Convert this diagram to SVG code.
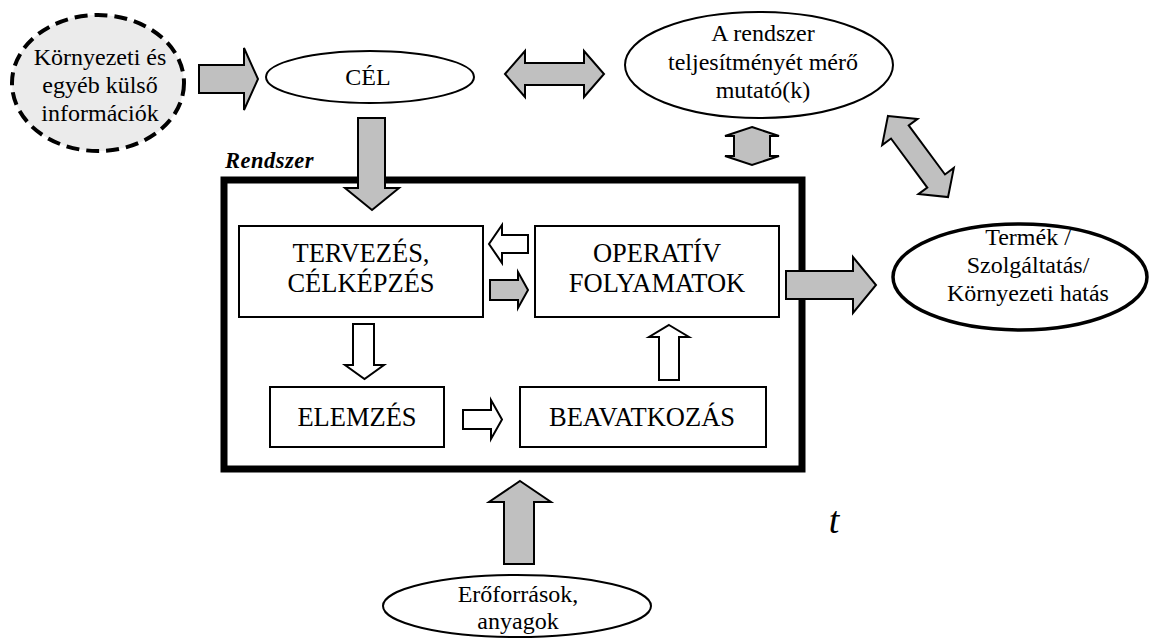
<svg xmlns="http://www.w3.org/2000/svg" width="1150" height="638" viewBox="0 0 1150 638">
<style>
text{font-family:"Liberation Serif","Times New Roman","Liberation Sans",serif;fill:#000;text-anchor:middle}
.te{font-size:24px}
.tb{font-size:26.5px}
.g{fill:#c0c0c0;stroke:#000;stroke-width:2;stroke-linejoin:miter}
.w{fill:#fff;stroke:#000;stroke-width:2;stroke-linejoin:miter}
.box{fill:#fff;stroke:#000;stroke-width:2}
.ell{fill:#fff;stroke:#000;stroke-width:2}
</style>
<rect width="1150" height="638" fill="#fff"/>
<g id="rendszer">
<rect x="224" y="180" width="578" height="289" fill="none" stroke="#000" stroke-width="7"/>
<text x="225" y="168" style="font-size:22.5px;font-weight:bold;font-style:italic;letter-spacing:0.5px;text-anchor:start">Rendszer</text>
</g>
<g id="kornyezeti">
<ellipse cx="98" cy="83" rx="86" ry="68" fill="#ebebeb" stroke="#000" stroke-width="4" stroke-dasharray="13 7"/>
<text class="te" x="100" y="65">Környezeti és</text>
<text class="te" x="100" y="93">egyéb külső</text>
<text class="te" x="100" y="121">információk</text>
</g>
<g id="cel">
<ellipse class="ell" cx="370" cy="77" rx="104" ry="26"/>
<text class="te" x="368" y="85">CÉL</text>
</g>
<g id="mutato">
<ellipse class="ell" cx="759" cy="65" rx="134" ry="53"/>
<text class="te" x="763" y="41">A rendszer</text>
<text class="te" x="763" y="70">teljesítményét mérő</text>
<text class="te" x="763" y="98">mutató(k)</text>
</g>
<g id="termek">
<ellipse cx="1020" cy="277" rx="127" ry="53" fill="#fff" stroke="#000" stroke-width="3.5"/>
<text class="te" x="1028" y="245">Termék /</text>
<text class="te" x="1028" y="273">Szolgáltatás/</text>
<text class="te" x="1028" y="301">Környezeti hatás</text>
</g>
<g id="eroforrasok">
<ellipse class="ell" cx="517" cy="606" rx="134" ry="31"/>
<text class="te" x="518" y="602">Erőforrások,</text>
<text class="te" x="518" y="629">anyagok</text>
</g>
<g id="tervezes">
<rect class="box" x="239" y="226" width="244" height="91"/>
<text class="tb" x="361" y="262">TERVEZÉS,</text>
<text class="tb" x="361" y="292">CÉLKÉPZÉS</text>
</g>
<g id="operativ">
<rect class="box" x="535" y="226" width="244" height="91"/>
<text class="tb" x="657" y="262">OPERATÍV</text>
<text class="tb" x="657" y="292">FOLYAMATOK</text>
</g>
<g id="elemzes">
<rect class="box" x="270" y="387" width="174" height="60"/>
<text class="tb" x="357" y="426">ELEMZÉS</text>
</g>
<g id="beavatkozas">
<rect class="box" x="520" y="387" width="246" height="60"/>
<text class="tb" x="642" y="426">BEAVATKOZÁS</text>
</g>
<g id="t-label">
<text x="834" y="533" style="font-size:38px;font-style:italic">t</text>
</g>
<g id="connectors">
<polygon class="g" points="199,65 244,65 244,48 258,79 244,110 244,93 199,93"/>
<polygon class="g" points="505,74 525,51 525,63 584,63 584,51 604,74 584,97 584,85 525,85 525,97"/>
<polygon class="g" points="752,127 779,136 770,136 770,156 779,156 752,165 725,156 734,156 734,136 725,136"/>
<polygon class="g" transform="translate(918,156.5) rotate(53.5)" points="-50.5,0 -30.5,-22 -30.5,-11 30.5,-11 30.5,-22 50.5,0 30.5,22 30.5,11 -30.5,11 -30.5,22"/>
<polygon class="g" points="358,118 385,118 385,188 399,188 372,210 345,188 358,188"/>
<polygon class="w" points="528,235 502,235 502,225 489,244 502,263 502,253 528,253"/>
<polygon class="g" points="490,280 518,280 518,272 528,290 518,308 518,300 490,300"/>
<polygon class="w" points="353,324 374,324 374,365 384,365 364.5,379 345,365 353,365"/>
<polygon class="w" points="463,410 491,410 491,400 502,419.5 491,439 491,429 463,429"/>
<polygon class="w" points="669,325 689,337 679,337 679,380 659,380 659,337 649,337"/>
<polygon class="g" points="520,481 551,502 534,502 534,564 504,564 504,502 489,502"/>
<polygon class="g" points="786,271 853,271 853,257 876,285 853,313 853,299 786,299"/>
</g>
</svg>
